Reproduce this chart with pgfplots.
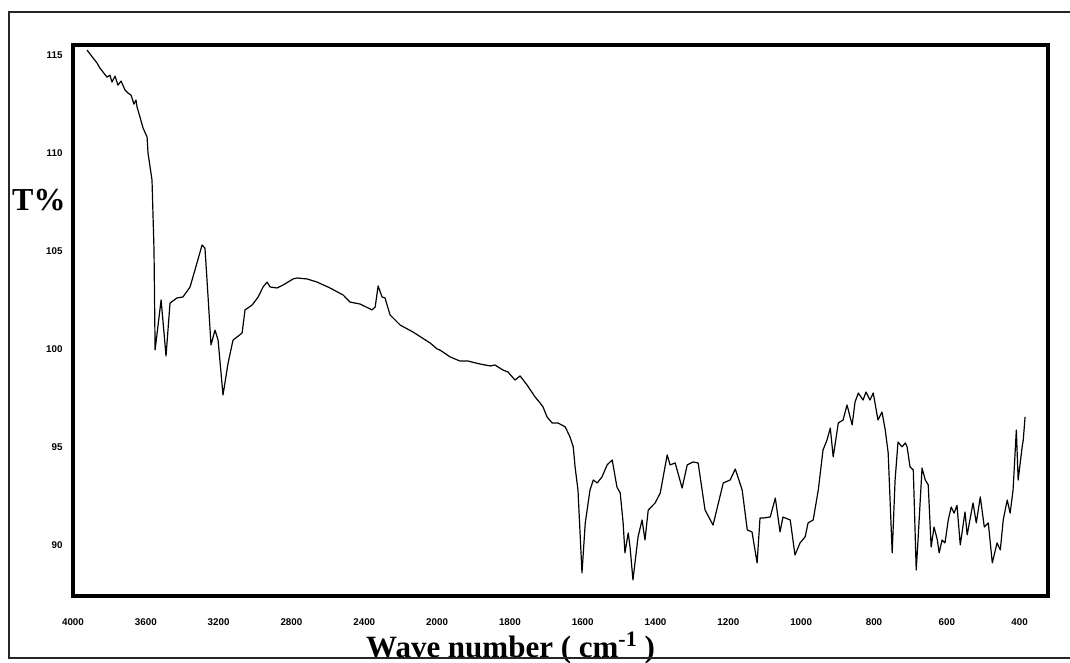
\documentclass[border=0pt]{standalone}
\usepackage{pgfplots}
\pgfplotsset{compat=1.18}
\usepackage{fontspec}
\setmainfont{Liberation Serif}
\newfontfamily\tickfont{Liberation Sans}

\pgfplotstableread{
w T
3923 115.27
3868 114.61
3852 114.35
3813 113.89
3797 113.99
3786 113.64
3769 113.94
3753 113.48
3736 113.69
3714 113.23
3698 113.08
3681 112.97
3665 112.51
3654 112.72
3648 112.36
3632 111.85
3615 111.29
3593 110.83
3588 110.02
3566 108.64
3555 105.07
3549 99.97
3516 102.52
3489 99.66
3467 102.36
3429 102.62
3396 102.67
3357 103.18
3330 104.05
3291 105.32
3275 105.16
3258 102.67
3242 100.22
3220 100.98
3203 100.47
3176 97.67
3148 99.30
3121 100.47
3071 100.83
3055 102.01
3016 102.26
2983 102.67
2956 103.18
2934 103.43
2917 103.18
2879 103.13
2846 103.28
2791 103.59
2769 103.64
2714 103.59
2659 103.43
2588 103.13
2516 102.77
2478 102.41
2423 102.31
2357 102.01
2340 102.16
2324 103.23
2302 102.67
2286 102.62
2258 101.75
2203 101.24
2132 100.88
2038 100.32
2000 100.02
1992 99.96
1964 99.61
1937 99.40
1915 99.40
1882 99.25
1854 99.15
1841 99.20
1819 98.94
1805 98.84
1786 98.43
1772 98.64
1753 98.18
1731 97.57
1717 97.26
1709 97.06
1698 96.55
1684 96.24
1668 96.24
1648 96.04
1635 95.53
1626 95.02
1621 94.00
1613 92.82
1602 88.59
1593 91.14
1580 92.82
1571 93.33
1560 93.18
1547 93.49
1533 94.10
1519 94.35
1506 92.97
1497 92.67
1489 91.14
1484 89.61
1475 90.63
1470 89.91
1462 88.23
1448 90.43
1437 91.29
1429 90.27
1420 91.80
1401 92.16
1387 92.67
1368 94.61
1360 94.10
1346 94.20
1327 92.92
1313 94.10
1297 94.25
1283 94.20
1264 91.80
1242 91.03
1214 93.18
1195 93.33
1181 93.89
1162 92.82
1148 90.78
1135 90.68
1121 89.10
1113 91.39
1104 91.39
1085 91.44
1071 92.41
1058 90.68
1050 91.44
1030 91.29
1017 89.50
1003 90.12
989 90.43
981 91.14
967 91.29
953 92.82
940 94.86
929 95.37
920 95.98
912 94.51
898 96.24
885 96.39
874 97.16
860 96.14
852 97.31
843 97.77
830 97.41
822 97.82
811 97.41
802 97.77
789 96.39
778 96.80
769 95.88
761 94.71
750 89.61
742 93.33
734 95.27
723 95.02
714 95.22
709 95.02
701 94.00
692 93.84
684 88.74
679 90.27
668 93.94
659 93.33
651 93.08
643 89.91
635 90.93
626 90.27
621 89.61
613 90.27
605 90.12
596 91.29
588 91.95
580 91.64
572 92.04
563 90.02
550 91.70
544 90.53
528 92.16
519 91.14
508 92.47
497 90.93
486 91.14
475 89.10
462 90.12
453 89.76
445 91.29
434 92.31
426 91.64
418 92.82
409 95.88
404 93.33
393 95.02
390 95.37
385 96.55
}\spectrum

\begin{document}
\begin{tikzpicture}
\useasboundingbox (0,0) rectangle (1070pt,662pt);
\begin{axis}[
  at={(73pt,66pt)}, anchor=south west,
  width=975pt, height=551pt, scale only axis,
  x coord trafo/.code={\pgfmathparse{#1>=2000 ? 4000-#1 : 6000-2*#1}},
  xmin=4000, xmax=322,
  ymin=87.41, ymax=115.53,
  xtick={4000,3600,3200,2800,2400,2000,1800,1600,1400,1200,1000,800,600,400},
  xticklabels={4000,3600,3200,2800,2400,2000,1800,1600,1400,1200,1000,800,600,400},
  ytick={90,95,100,105,110,115},
  yticklabels={90,95,100,105,110,115},
  major tick length=0pt,
  axis line style={line width=3.5pt, line join=miter},
  /pgf/number format/assume math mode=true,
  ticklabel style={font=\tickfont\bfseries\fontsize{9.8}{10}\selectfont},
  xticklabel shift=19pt,
  yticklabel shift=7pt,
]
\addplot[black, line width=1.2pt, line join=round] table[x=w, y=T] {\spectrum};
\end{axis}
\node[anchor=base west, font=\bfseries\fontsize{32}{32}\selectfont, inner sep=0pt] at (12pt,451pt) {T\%};
\node[anchor=base west, font=\bfseries\fontsize{31}{31}\selectfont, inner sep=0pt] at (366pt,5pt)
  {Wave number ( cm\raisebox{11pt}{\fontsize{22}{22}\selectfont -1} )};
\draw[line width=1.8pt, black!85] (1075pt,650pt) -- (9pt,650pt) -- (9pt,4pt) -- (1075pt,4pt);
\end{tikzpicture}
\end{document}
